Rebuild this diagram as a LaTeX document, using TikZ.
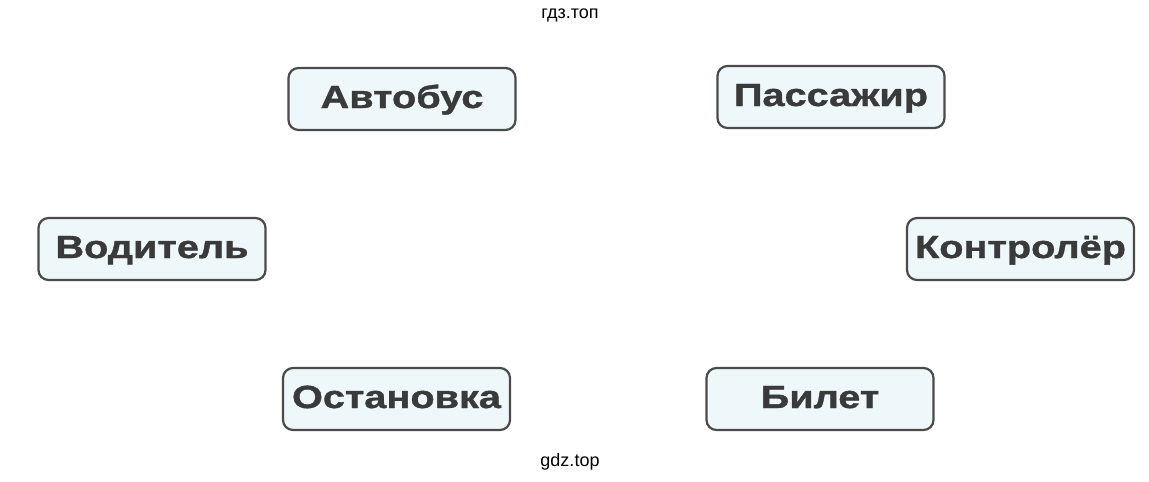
\documentclass[tikz,border=0pt]{standalone}
\usepackage{fontspec}
\setmainfont{Liberation Sans}
\newfontfamily\boxfont[FakeStretch=1.24,FakeBold=1.2]{Liberation Sans Bold}
\definecolor{boxfill}{HTML}{EEF8FB}
\definecolor{boxline}{HTML}{4A4A4A}
\definecolor{boxtext}{HTML}{3A3A3A}
\begin{document}
\begin{tikzpicture}[x=1pt,y=-1pt,
  wordbox/.style={draw=boxline,line width=2.2pt,fill=boxfill,rounded corners=10pt,
    minimum width=227pt,minimum height=62pt,inner sep=0pt,text height=18pt,text depth=0pt,
    font=\boxfont\fontsize{32}{36}\selectfont,text=boxtext},
  wmark/.style={font=\fontsize{18}{20}\selectfont,text=black}]
\useasboundingbox (0,0) rectangle (1149,482);
\node[wordbox] (avtobus) at (402,99) {Автобус};
\node[wordbox] (passazhir) at (831,97) {Пассажир};
\node[wordbox] (voditel) at (152,249) {Водитель};
\node[wordbox] (kontroler) at (1020.5,249) {Контролёр};
\node[wordbox] (ostanovka) at (396.5,399) {Остановка};
\node[wordbox] (bilet) at (820,399) {Билет};
\node[wmark] (wtop) at (570,15) {гдз.топ};
\node[wmark] (wbot) at (570,462) {gdz.top};
\end{tikzpicture}
\end{document}
